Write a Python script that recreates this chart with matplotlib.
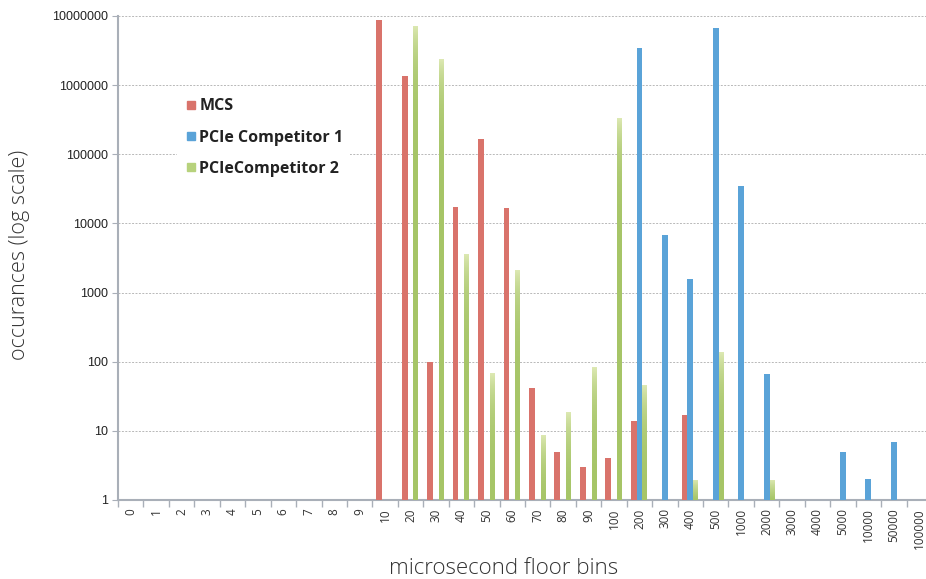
import numpy as np
import matplotlib.pyplot as plt
from matplotlib.lines import Line2D
from matplotlib.colors import LinearSegmentedColormap

# categorias (bins en microsegundos)
bins = ['0', '1', '2', '3', '4', '5', '6', '7', '8', '9',
        '10', '20', '30', '40', '50', '60', '70', '80', '90', '100',
        '200', '300', '400', '500', '1000', '2000', '3000', '4000', '5000',
        '10000', '50000', '100000']

# valores (0 = sin barra)
mcs = [0, 0, 0, 0, 0, 0, 0, 0, 0, 0,
       8.7e6, 1.35e6, 100, 17000, 166000, 16700, 42, 5, 3, 4,
       14, 0, 17, 0, 0, 0, 0, 0, 0, 0, 0, 0]
comp1 = [0, 0, 0, 0, 0, 0, 0, 0, 0, 0,
         0, 0, 0, 0, 0, 0, 0, 0, 0, 0,
         3.45e6, 6800, 1550, 6.7e6, 35000, 66, 0, 0, 5, 2, 7, 0]
comp2 = [0, 0, 0, 0, 0, 0, 0, 0, 0, 0,
         0, 7.4e6, 2.4e6, 3700, 69, 2150, 9, 19, 84, 340000,
         47, 0, 2, 140, 0, 2, 0, 0, 0, 0, 0, 0]

red = '#d9736b'
blue = '#5aa3d8'
green_cmap = LinearSegmentedColormap.from_list('g', ['#a6c567', '#dfeab6'])

fig = plt.figure(figsize=(9.26, 5.79), dpi=100)
ax = fig.add_axes([118 / 926, 1 - 500 / 579, 814 / 926, 484 / 579])
ax.set_yscale('log')
ax.set_ylim(1, 1e7)
ax.set_xlim(-0.5, len(bins) - 0.5)

x = np.arange(len(bins))
w = 0.23

def draw(vals, off, color):
    v = np.array(vals, dtype=float)
    m = v > 0
    return ax.bar(x[m] + off, v[m] - 1, bottom=1, width=w, color=color, zorder=3)

draw(mcs, -0.23, red)
draw(comp1, 0.0, blue)
bars = draw(comp2, 0.23, 'none')

# degradado vertical para las barras verdes
grad = np.linspace(0, 1, 256).reshape(-1, 1)
for b in bars:
    x0 = b.get_x()
    top = b.get_y() + b.get_height()
    im = ax.imshow(grad, cmap=green_cmap, origin='lower', aspect='auto',
                   extent=[x0, x0 + w, 1, top], zorder=3, interpolation='bilinear')
    im.set_clip_path(b)
ax.set_xlim(-0.5, len(bins) - 0.5)
ax.set_ylim(1, 1e7)

ax.grid(axis='y', which='major', color='#b8b8b8', linestyle=(0, (2, 1.5)), linewidth=0.7, zorder=0)
ax.minorticks_off()
ax.set_yticks([1, 10, 100, 1000, 10000, 100000, 1000000, 10000000])
ax.set_yticklabels(['1', '10', '100', '1000', '10000', '100000', '1000000', '10000000'],
                   fontsize=9, family='Liberation Sans', color='#222222')
ax.tick_params(axis='y', length=4, color='#a9afb8', pad=3)

ax.set_xticks(x)
ax.set_xticklabels(bins, rotation=90, fontsize=8.5, family='Open Sans', color='#333333')
ax.tick_params(axis='x', which='major', length=0, pad=6)
ax.set_xticks(np.arange(len(bins) + 1) - 0.5, minor=True)
ax.tick_params(axis='x', which='minor', length=5, color='#a9afb8', width=1)

for s in ['top', 'right']:
    ax.spines[s].set_visible(False)
for s in ['left', 'bottom']:
    ax.spines[s].set_color('#a9afb8')
    ax.spines[s].set_linewidth(1.5)

fig.text(20 / 926, 1 - 255 / 579, 'occurances (log scale)', fontsize=15.5, family='Open Sans',
         weight='light', color='#333333', rotation=90, ha='center', va='center')
fig.text(504 / 926, 1 - 568 / 579, 'microsecond floor bins', fontsize=16, family='Open Sans',
         weight='light', color='#333333', ha='center', va='center')

handles = [Line2D([], [], marker='s', linestyle='none', markersize=6, color=red),
           Line2D([], [], marker='s', linestyle='none', markersize=6, color=blue),
           Line2D([], [], marker='s', linestyle='none', markersize=6, color='#b7d27c')]
leg = fig.legend(handles, ['MCS', 'PCIe Competitor 1', 'PCIeCompetitor 2'],
                 loc='upper left', bbox_to_anchor=(169 / 926, 1 - 84 / 579),
                 frameon=True, facecolor='white', edgecolor='none', framealpha=1,
                 handletextpad=0.0, labelspacing=0.95, handlelength=1.0,
                 prop={'family': 'Open Sans', 'weight': 'bold', 'size': 11.5})
for t in leg.get_texts():
    t.set_color('#222222')

fig.savefig('out.png', dpi=100)
